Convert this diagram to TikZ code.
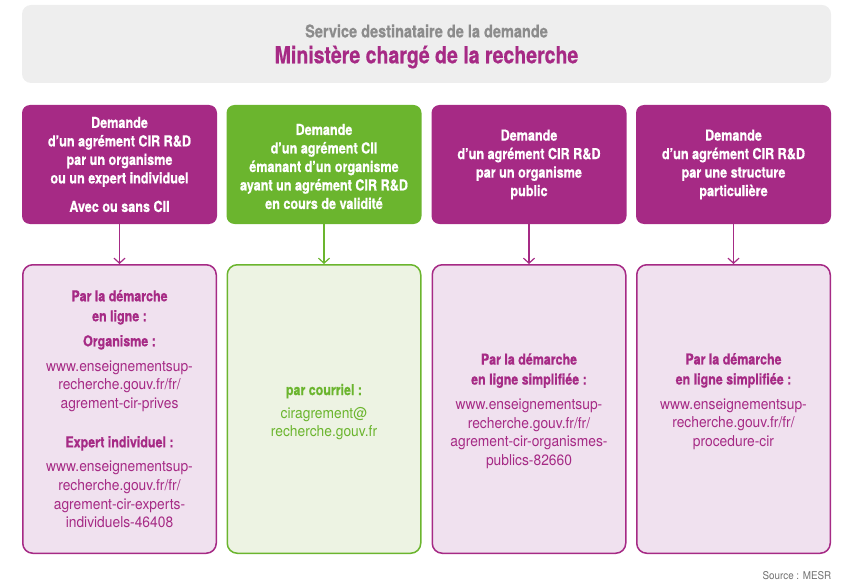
\documentclass[tikz,border=0pt]{standalone}
\usepackage{fontspec}
\setmainfont{TeX Gyre Heros}
\newfontfamily\regf{TeX Gyre Heros}[FakeStretch=0.92]
\newfontfamily\boldf{TeX Gyre Heros}[FakeStretch=0.83,FakeBold=0.6]
\newcommand\bld[1]{{\boldf\bfseries #1}}
\usetikzlibrary{arrows.meta}
\definecolor{purp}{HTML}{A62A85}
\definecolor{grn}{HTML}{6BB52E}
\definecolor{lpurp}{HTML}{F0E1EF}
\definecolor{lgrn}{HTML}{EDF3E3}
\definecolor{greybg}{HTML}{EEEEEE}
\definecolor{greytxt}{HTML}{8C8C8C}
\definecolor{srctxt}{HTML}{707070}
\begin{document}
\begin{tikzpicture}[x=1pt,y=-1pt,
  headbox/.style={fill=#1, draw=none, rounded corners=8pt, minimum width=195pt,
    minimum height=119pt, inner sep=0pt, text=white, align=center,
    font=\boldf\bfseries\fontsize{15.2}{18.5}\selectfont},
  resbox/.style={fill=l#1, draw=#1, line width=1.5pt, rounded corners=10pt,
    minimum width=193.5pt, minimum height=288.5pt, inner sep=0pt, text=#1,
    align=center, font=\regf\fontsize{15}{18.7}\selectfont},
  restxt/.style={inner sep=0pt, text=#1, align=center,
    font=\regf\fontsize{15}{18.7}\selectfont},
  arr/.style={draw=#1, line width=1.2pt, -{Straight Barb[length=5pt,width=11pt,line width=1.2pt]}}
]
\useasboundingbox (0,0) rectangle (851,588);

% header
\node[fill=greybg, rounded corners=9pt, minimum width=809pt, minimum height=78pt, inner sep=0pt] (hdr) at (426.5,44) {};
\node[inner sep=0pt, text=greytxt, font=\boldf\bfseries\fontsize{17.5}{19}\selectfont] (hdr1) at (426.5,31) {Service destinataire de la demande};
\node[inner sep=0pt, text=purp, font=\boldf\bfseries\fontsize{23.5}{27}\selectfont] (hdr2) at (426.5,57) {Ministère chargé de la recherche};

% request boxes
\node[headbox=purp] (h1) at (119.5,164.5) {Demande\\d’un agrément CIR R\&D\\par un organisme\\ou un expert individuel\\[10pt]Avec ou sans CII};
\node[headbox=grn] (h2) at (324,164.5) {};
\node[restxt=white, font=\boldf\bfseries\fontsize{15.2}{18.5}\selectfont] (h2t) at (324,166.5) {Demande\\d’un agrément CII\\émanant d’un organisme\\ayant un agrément CIR R\&D\\en cours de validité};
\node[headbox=purp] (h3) at (529,164.5) {Demande\\d’un agrément CIR R\&D\\par un organisme\\public};
\node[headbox=purp] (h4) at (733.5,164.5) {Demande\\d’un agrément CIR R\&D\\par une structure\\particulière};

% result boxes
\node[resbox=purp] (r1) at (119.5,409) {\bld{Par la démarche}\\[1.3pt]\bld{en ligne :}\\[6.3pt]\bld{Organisme :}\\[6.3pt]www.enseignementsup-\\recherche.gouv.fr/fr/\\agrement-cir-prives\\[20pt]\bld{Expert individuel :}\\[5.6pt]www.enseignementsup-\\recherche.gouv.fr/fr/\\agrement-cir-experts-\\individuels-46408};
\node[resbox=grn] (r2) at (324,409) {};
\node[restxt=grn] (r2t) at (324,412) {\bld{par courriel :}\\[4.3pt]ciragrement@\\recherche.gouv.fr};
\node[resbox=purp] (r3) at (529,409) {};
\node[restxt=purp] (r3t) at (529,411) {\bld{Par la démarche}\\[1.3pt]\bld{en ligne simplifiée :}\\[6pt]www.enseignementsup-\\recherche.gouv.fr/fr/\\agrement-cir-organismes-\\publics-82660};
\node[resbox=purp] (r4) at (733.5,409) {};
\node[restxt=purp] (r4t) at (733.5,401.5) {\bld{Par la démarche}\\[1.3pt]\bld{en ligne simplifiée :}\\[6pt]www.enseignementsup-\\recherche.gouv.fr/fr/\\procedure-cir};

% connectors
\draw[arr=purp] (h1) -- (r1);
\draw[arr=grn] (h2) -- (r2);
\draw[arr=purp] (h3) -- (r3);
\draw[arr=purp] (h4) -- (r4);

% source
\node[inner sep=0pt, anchor=east, text=srctxt, font=\regf\fontsize{10.7}{12}\selectfont] (src) at (831.5,576) {Source : MESR};
\end{tikzpicture}
\end{document}
